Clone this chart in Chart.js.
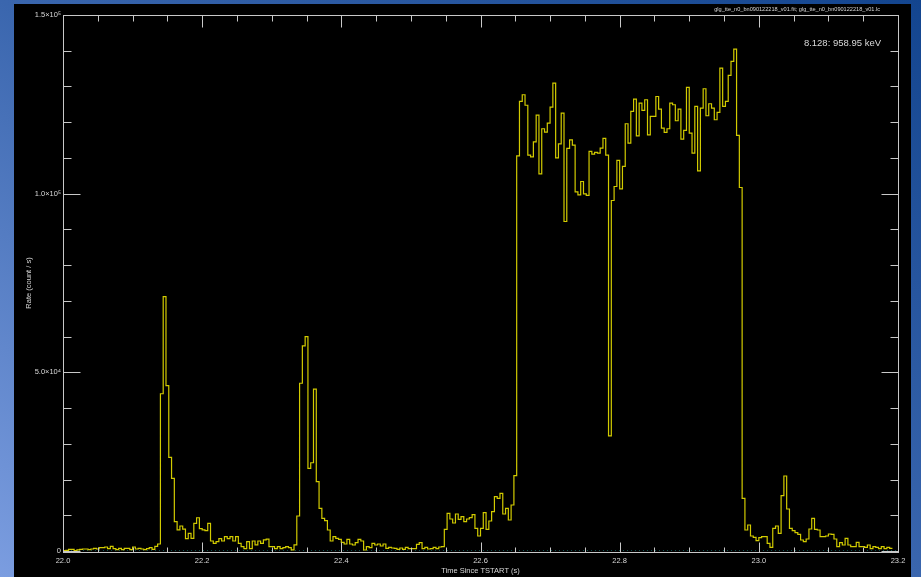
<!DOCTYPE html>
<html>
<head>
<meta charset="utf-8">
<script src="https://cdn.jsdelivr.net/npm/chart.js@4.4.1/dist/chart.umd.min.js"></script>
<style>
  html, body { margin: 0; padding: 0; }
  body {
    width: 921px; height: 577px; overflow: hidden; position: relative;
    background: linear-gradient(to top right, #7b9de0 0%, #3a66ae 50%, #13458f 100%);
  }
  #panel { position: absolute; left: 14px; top: 4px; width: 897px; height: 573px; background: #000; }
</style>
</head>
<body>
<div id="panel"><canvas id="lc" width="897" height="573"></canvas></div>
<script>
// light curve, 4 ms bins starting at 22.0 s
const binStart = 22.0;
const binWidth = 0.004;
const rate = [
  100, 200, 470, 470, 100, 300, 470, 560, 560, 370,
  560, 750, 560, 930, 930, 1120, 650, 1300, 650, 370,
  750, 370, 750, 750, 370, 1120, 560, 750, 560, 370,
  650, 930, 470, 1300, 1960, 44000, 71200, 46300, 26200, 20350,
  8200, 5900, 7000, 6100, 3450, 4950, 3550, 7750, 9300, 6250,
  5900, 5700, 7750, 2800, 2150, 2600, 3450, 2800, 4000, 3450,
  4000, 2800, 4000, 2150, 1200, 650, 2600, 650, 2800, 1700,
  2800, 2150, 3100, 3350, 1200, 1200, 650, 1200, 650, 950,
  1200, 950, 300, 1700, 9800, 46950, 57400, 60000, 23150, 24700,
  45300, 19400, 11950, 9150, 8500, 5880, 2800, 4000, 3550, 3270,
  2430, 1960, 3270, 1960, 1680, 2330, 3270, 2800, 280, 1200,
  930, 2150, 1680, 1960, 1400, 1960, 750, 1030, 840, 750,
  470, 840, 470, 1030, 650, 650, 650, 1870, 2330, 650,
  1030, 560, 650, 1030, 650, 1120, 1200, 6070, 10550, 8960,
  7840, 10360, 8870, 9610, 8210, 8960, 9330, 10170, 6350, 4200,
  6350, 10730, 6070, 8400, 11010, 15200, 14750, 16150, 10360, 11950,
  8680, 12880, 21090, 110600, 125800, 127680, 124740, 110800, 110320, 114520,
  121990, 105560, 118160, 117230, 119750, 124230, 130950, 110030, 113960, 122540,
  92210, 112700, 115080, 113570, 100500, 99680, 103400, 99960, 99500, 111810,
  111060, 111530, 111340, 112740, 115450, 110770, 32200, 98090, 102010, 109290,
  101360, 107610, 119560, 114150, 123020, 126470, 116200, 125350, 123300, 126280,
  116480, 121610, 121610, 127190, 123680, 118350, 117130, 118160, 125350, 124880,
  120400, 123680, 115270, 117690, 129730, 116950, 111340, 124410, 106400, 123960,
  129360, 121800, 125170, 123960, 120680, 122730, 135150, 124410, 125800, 133090,
  137010, 140470, 116290, 101730, 14750, 5880, 7280, 4200, 3830, 2890,
  3730, 4010, 4010, 2150, 1030, 6350, 7000, 4950, 15490, 20990,
  11760, 6350, 5690, 5130, 4670, 3080, 2610, 3360, 6160, 9150,
  6070, 5880, 4010, 4010, 4200, 4760, 4670, 3360, 1210, 2330,
  1680, 3550, 1680, 1210, 1210, 2430, 1210, 1210, 1030, 1680,
  650, 1210, 1030, 650, 1210, 650, 1030, 750
];

const xMin = 22.0, xMax = 23.2;
const yMin = 0, yMax = 150000;
const xMajor = [22.0, 22.2, 22.4, 22.6, 22.8, 23.0, 23.2];
const yMajor = [0, 50000, 100000, 150000];
const yLabels = ['0', '5.0×10⁴', '1.0×10⁵', '1.5×10⁵'];
const xMinorStep = 0.05, yMinorStep = 10000;

const energyLabel = '8.128: 958.95 keV';
const fileLabel = 'glg_tte_n0_bn090122218_v01.fit; glg_tte_n0_bn090122218_v01.lc';

const textColor = '#d8d8d8';
const smallFont = { family: 'Liberation Sans', size: 7.5 };

// each point sits on a bin's left edge; one extra point closes the last bin
const steps = rate.map((v, i) => ({ x: binStart + i * binWidth, y: v }));
steps.push({ x: binStart + rate.length * binWidth, y: rate[rate.length - 1] });

// box frame with inward ticks on all four sides, plus the corner labels
const frameTicks = {
  id: 'frameTicks',
  afterDatasetsDraw(chart) {
    const { ctx, chartArea: a, scales: { x, y } } = chart;
    const L = Math.round(a.left) + 0.5, R = Math.round(a.right) + 0.5;
    const T = Math.round(a.top) + 0.5, B = Math.round(a.bottom) + 1.5;
    ctx.save();
    ctx.strokeStyle = '#c8c8c8';
    ctx.lineWidth = 1;
    ctx.strokeRect(L, T, R - L, B - T);
    ctx.beginPath();
    const nx = Math.round((xMax - xMin) / xMinorStep);
    for (let k = 0; k <= nx; k++) {
      const px = Math.round(x.getPixelForValue(xMin + k * xMinorStep)) + 0.5;
      const major = k % 4 === 0;
      ctx.moveTo(px, B); ctx.lineTo(px, B - (major ? 10 : 5));
      ctx.moveTo(px, T); ctx.lineTo(px, T + (major ? 12 : 6));
    }
    const ny = Math.round((yMax - yMin) / yMinorStep);
    for (let k = 0; k <= ny; k++) {
      const py = Math.round(y.getPixelForValue(yMin + k * yMinorStep)) + 0.5;
      const major = k % 5 === 0;
      ctx.moveTo(L, py); ctx.lineTo(L + (major ? 17 : 8), py);
      ctx.moveTo(R, py); ctx.lineTo(R - (major ? 17 : 8), py);
    }
    ctx.stroke();

    ctx.fillStyle = textColor;
    ctx.textAlign = 'right';
    ctx.textBaseline = 'alphabetic';
    ctx.font = '9.5px "Liberation Sans"';
    ctx.fillText(energyLabel, 867, 42);
    ctx.font = '5.6px "Liberation Sans"';
    ctx.fillText(fileLabel, 866, 7);
    ctx.restore();
  }
};

new Chart(document.getElementById('lc'), {
  type: 'line',
  data: {
    datasets: [
      {
        data: steps,
        stepped: true,
        borderColor: '#d2cb00',
        borderWidth: 1.2,
        pointRadius: 0,
        fill: false,
        order: 0
      },
      {
        data: [{ x: xMin, y: 0 }, { x: xMax, y: 0 }],
        borderColor: '#1fa0a0',
        borderWidth: 1,
        borderDash: [1, 3],
        pointRadius: 0,
        order: 1
      }
    ]
  },
  options: {
    responsive: false,
    animation: false,
    layout: { padding: { top: 11, right: 13, left: 0, bottom: 0 } },
    scales: {
      x: {
        type: 'linear',
        min: xMin,
        max: xMax,
        afterBuildTicks: s => { s.ticks = xMajor.map(v => ({ value: v })); },
        afterFit: s => { s.height = 26; },
        grid: { display: false, drawTicks: false },
        border: { display: false },
        ticks: {
          color: textColor, font: smallFont, padding: 5,
          maxRotation: 0, autoSkip: false,
          callback: v => v.toFixed(1)
        },
        title: {
          display: true, text: 'Time Since TSTART (s)',
          color: textColor, font: smallFont, padding: { top: 0, bottom: 2 }
        }
      },
      y: {
        min: yMin,
        max: yMax,
        afterBuildTicks: s => { s.ticks = yMajor.map(v => ({ value: v })); },
        afterFit: s => { s.width = 49; },
        grid: { display: false, drawTicks: false },
        border: { display: false },
        ticks: {
          color: textColor, font: smallFont, padding: 2, autoSkip: false,
          callback: v => yLabels[yMajor.indexOf(v)]
        },
        title: {
          display: true, text: 'Rate (count / s)',
          color: textColor, font: smallFont, padding: { top: 10, bottom: 0 }
        }
      }
    },
    plugins: {
      legend: { display: false },
      tooltip: { enabled: false }
    }
  },
  plugins: [frameTicks]
});
</script>
</body>
</html>
